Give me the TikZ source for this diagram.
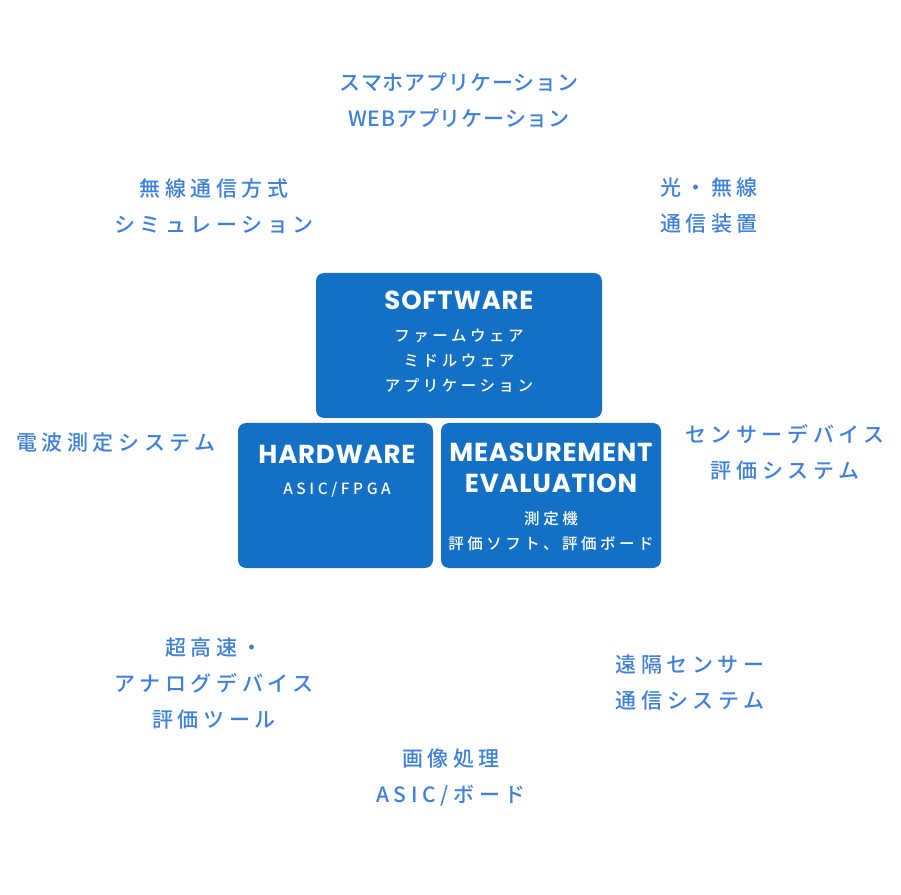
\documentclass[tikz,border=0pt]{standalone}
\usepackage{fontspec}
\usepackage{tikz}
\usetikzlibrary{positioning}
\newfontfamily\jpfont{Noto Sans CJK JP Medium}[LetterSpace=22]
\newfontfamily\jptopfont{Noto Sans CJK JP Medium}[LetterSpace=4]
\newfontfamily\jpboxfont{Noto Sans CJK JP Medium}[LetterSpace=23]
\newfontfamily\headfont{Poppins}[LetterSpace=3]
\definecolor{boxblue}{RGB}{20,112,196}
\definecolor{fieldblue}{RGB}{62,128,219}
\tikzset{x=0.75pt, y=-0.75pt, % one unit is one pixel of the reference
block/.style={rectangle, rounded corners=6pt, fill=boxblue, inner sep=0pt, minimum height=108.75pt}, % the three blue boxes
blocktitle/.style={text=white, font=\headfont\bfseries\fontsize{19.5}{23.25}\selectfont, align=center, inner sep=0pt},
blocktext/.style={text=white, font=\jpboxfont\fontsize{11.6}{18.75}\selectfont, align=center, inner sep=0pt},
field/.style={text=fieldblue, font=\jpfont\fontsize{15.75}{27}\selectfont, align=center, inner sep=0pt}, % fields around the boxes
}

\begin{document}
\begin{tikzpicture}
\useasboundingbox (0,0) rectangle (901,895);

% boxes
\node[block, minimum width=214.5pt] (sw) at (459,345.5) {};
\node[block, minimum width=146.25pt] (hw) at (335.5,495.5) {};
\node[block, minimum width=165pt] (me) at (551,495.5) {};

\node[blocktitle] (swtitle) at (459,300) {SOFTWARE};
\node[blocktext] (swtext) at (459,361) {ファームウェア\\ミドルウェア\\アプリケーション};
\node[blocktitle] (hwtitle) at (337,454) {HARDWARE};
\node[blocktext] (hwtext) at (337,490) {ASIC/FPGA};
\node[blocktitle] (metitle) at (551,467.5) {MEASUREMENT\\EVALUATION};
\node[blocktext] (metext) at (551,531.5) {測定機\\評価ソフト、評価ボード};

% fields
\node[field, font=\jptopfont\fontsize{15.75}{27}\selectfont] (smartapp) at (459,100) {スマホアプリケーション\\WEBアプリケーション};
\node[field] (wireless) at (214,206) {無線通信方式\\シミュレーション};
\node[field] (optical) at (709,206) {光・無線\\通信装置};
\node[field] (radio) at (116,443) {電波測定システム};
\node[field] (sensor) at (785,452) {センサーデバイス\\評価システム};
\node[field] (analog) at (214,684) {超高速・\\アナログデバイス\\評価ツール};
\node[field] (remote) at (690,683) {遠隔センサー\\通信システム};
\node[field] (image) at (451,777.5) {画像処理\\ASIC/ボード};

\end{tikzpicture}
\end{document}
